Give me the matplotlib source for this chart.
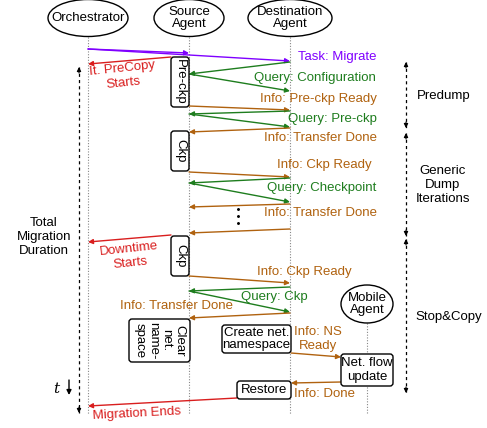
import matplotlib
matplotlib.use("Agg")
import matplotlib.pyplot as plt
from matplotlib.patches import Ellipse, FancyBboxPatch

plt.rcParams['font.family'] = ['Liberation Sans', 'DejaVu Sans']

PURPLE = "#7F00FF"
GREEN = "#1E7D1E"
BROWN = "#B0620F"
RED = "#D91E1E"

# actors: name, label, x, ellipse centre y, ellipse width, height
actor_names = ["O", "S", "D", "M"]
actor_labels = ["Orchestrator", "Source\nAgent", "Destination\nAgent", "Mobile\nAgent"]
actor_x = [88, 189, 290, 367]
actor_cy = [18, 18, 18, 304]
actor_w = [80, 70, 84, 52]
actor_h = [37, 37, 37, 38]
lifeline_end = 414

X = dict(zip(actor_names, actor_x))

# messages: from, y_from, to, y_to, colour
msg_from = ["O", "O", 171, "D", "S", "S", "D", "S", "D",
            "S", "D", "S", "D", "D", 171,
            "S", "D", "S", "D", 291, 341, 237]
msg_y1 = [49, 49, 57, 62, 74, 106, 111, 114, 128,
          172, 178, 183, 204, 229, 235,
          276, 287, 291, 313, 353, 382, 398]
msg_to = ["S", "D", "O", "S", "D", "D", "S", "D", "S",
          "D", "S", "D", "S", "S", "O",
          "D", "S", "D", "S", 341, 291, "O"]
msg_y2 = [53, 61, 64, 74, 91, 110, 114, 127, 132,
          177, 183, 202, 207, 233, 242,
          283, 291, 312, 318, 357, 383, 406]
msg_col = [PURPLE, PURPLE, RED, GREEN, GREEN, BROWN, GREEN, GREEN, BROWN,
           BROWN, GREEN, GREEN, BROWN, BROWN, RED,
           BROWN, GREEN, GREEN, BROWN, BROWN, BROWN, RED]

# message labels
lab_text = ["Task: Migrate", "Query: Configuration", "Info: Pre-ckp Ready",
            "Query: Pre-ckp", "Info: Transfer Done", "Info: Ckp Ready",
            "Query: Checkpoint", "Info: Transfer Done", "Info: Ckp Ready",
            "Query: Ckp", "Info: Transfer Done", "Info: NS\nReady", "Info: Done"]
lab_x = [376, 376, 377, 377, 377, 372, 376, 377, 352, 308, 233, 318, 325]
lab_y = [57, 78, 99, 119, 138, 165, 188, 213, 272, 297, 306, 339, 394]
lab_col = [PURPLE, GREEN, BROWN, GREEN, BROWN, BROWN, GREEN, BROWN, BROWN,
           GREEN, BROWN, BROWN, BROWN]
lab_ha = ["right"] * 11 + ["center", "center"]

# red slanted labels
red_text = ["It. PreCopy\nStarts", "Downtime\nStarts", "Migration Ends"]
red_x = [123, 130, 137]
red_y = [76, 256, 414]
red_rot = [6, 6, 3]

# activity boxes: text, x0, y0, x1, y1, rotation
box_text = ["Pre-ckp", "Ckp", "Ckp", "Clear\nnet.\nname-\nspace",
            "Create net.\nnamespace", "Net. flow\nupdate", "Restore"]
box_x0 = [171, 171, 171, 129, 222, 341, 237]
box_y0 = [57, 131, 236, 319, 325, 354, 381]
box_x1 = [189, 189, 189, 190, 291, 393, 291]
box_y1 = [107, 171, 276, 362, 353, 386, 399]
box_rot = [-90, -90, -90, -90, 0, 0, 0]
box_ls = [1.0, 1.0, 1.0, 1.15, 1.1, 1.15, 1.0]

# phases on the right
phase_text = ["Predump", "Generic\nDump\nIterations", "Stop&Copy"]
phase_top = [62, 133, 239]
phase_bot = [128, 236, 393]
phase_lx = [417, 443, 415]
phase_ly = [96, 185, 317]
phase_ha = ["left", "center", "left"]
phase_x = 406

FS = 9.5

fig = plt.figure(figsize=(4.87, 4.28), dpi=100)
ax = fig.add_axes([0, 0, 1, 1])
ax.set_xlim(0, 487)
ax.set_ylim(428, 0)
ax.axis("off")

# lifelines
for n, x, cy, h in zip(actor_names, actor_x, actor_cy, actor_h):
    ax.plot([x, x], [cy + h / 2, lifeline_end], color="#888888", lw=0.8,
            ls=(0, (1, 1.5)), zorder=1)

# actors
for lab, x, cy, w, h in zip(actor_labels, actor_x, actor_cy, actor_w, actor_h):
    ax.add_patch(Ellipse((x, cy), w, h, facecolor="white", edgecolor="black",
                         lw=1, zorder=3))
    ax.text(x, cy, lab, ha="center", va="center", fontsize=FS,
            linespacing=1.1, zorder=4)

# boxes
for t, x0, y0, x1, y1, r, ls in zip(box_text, box_x0, box_y0, box_x1, box_y1,
                                    box_rot, box_ls):
    ax.add_patch(FancyBboxPatch((x0, y0), x1 - x0, y1 - y0,
                                boxstyle="round,pad=0,rounding_size=3",
                                facecolor="white", edgecolor="black", lw=1,
                                zorder=5))
    ax.text((x0 + x1) / 2, (y0 + y1) / 2, t, ha="center", va="center",
            rotation=r, fontsize=FS, linespacing=ls, zorder=6,
            rotation_mode="anchor")


def px(v):
    return X[v] if isinstance(v, str) else v


# messages
for a, y1, b, y2, c in zip(msg_from, msg_y1, msg_to, msg_y2, msg_col):
    ax.annotate("", xy=(px(b), y2), xytext=(px(a), y1),
                arrowprops=dict(arrowstyle="-|>", color=c, lw=1,
                                mutation_scale=7, shrinkA=0, shrinkB=0),
                zorder=4)

# message labels
for t, x, y, c, ha in zip(lab_text, lab_x, lab_y, lab_col, lab_ha):
    ax.text(x, y, t, ha=ha, va="center", color=c, fontsize=FS,
            linespacing=1.25, zorder=7)

# red slanted labels
for t, x, y, r in zip(red_text, red_x, red_y, red_rot):
    ax.text(x, y, t, ha="center", va="center", color=RED, fontsize=FS,
            rotation=r, rotation_mode="anchor", linespacing=1.3, zorder=7)

# ellipsis dots
for y in [209, 216, 223]:
    ax.plot(238, y, marker="o", ms=1.1, color="black", zorder=7)

# phases
for t, top, bot, lx, ly, ha in zip(phase_text, phase_top, phase_bot,
                                    phase_lx, phase_ly, phase_ha):
    ax.plot([phase_x, phase_x], [top, bot], color="black", lw=0.9,
            ls=(0, (2.5, 2.5)))
    for y_tip, y_tail in [(top, top + 6), (bot, bot - 6)]:
        ax.annotate("", xy=(phase_x, y_tip), xytext=(phase_x, y_tail),
                    arrowprops=dict(arrowstyle="-|>", color="black", lw=0.8,
                                    mutation_scale=6, shrinkA=0, shrinkB=0))
    ax.text(lx, ly, t, ha=ha, va="center", fontsize=FS, linespacing=1.2)

# total migration duration
tx = 79
ax.plot([tx, tx], [67, 413], color="black", lw=0.9, ls=(0, (2.5, 2.5)))
for y_tip, y_tail in [(67, 73), (413, 407)]:
    ax.annotate("", xy=(tx, y_tip), xytext=(tx, y_tail),
                arrowprops=dict(arrowstyle="-|>", color="black", lw=0.8,
                                mutation_scale=6, shrinkA=0, shrinkB=0))
ax.text(44, 237, "Total\nMigration\nDuration", ha="center", va="center",
        fontsize=FS, linespacing=1.2)

# time arrow
ax.text(56, 389, "t", ha="center", va="center", fontsize=11,
        family="DejaVu Serif", style="italic")
ax.annotate("", xy=(69, 395), xytext=(69, 380),
            arrowprops=dict(arrowstyle="-|>", color="black", lw=1,
                            mutation_scale=7, shrinkA=0, shrinkB=0))

fig.savefig("out.png", dpi=100)
